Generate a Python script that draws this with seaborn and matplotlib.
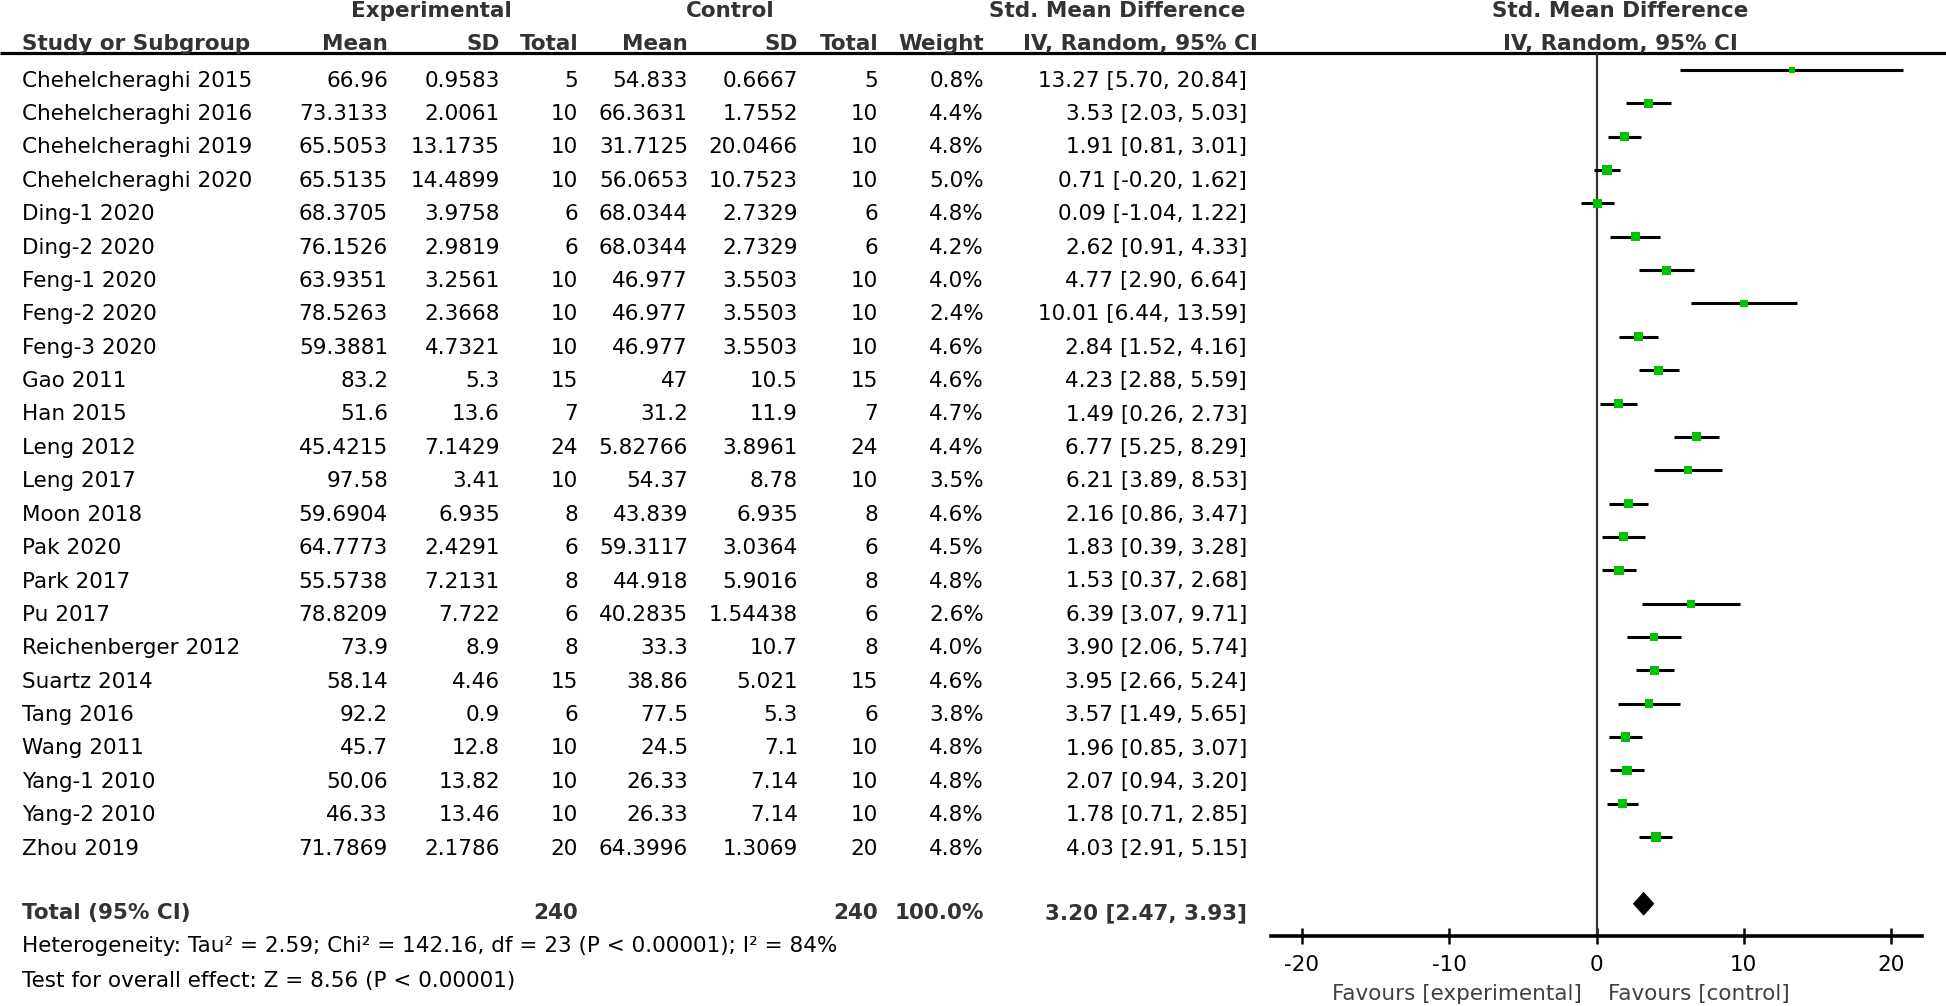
import matplotlib
matplotlib.use("Agg")
import matplotlib.pyplot as plt
import seaborn as sns
import pandas as pd

studies = [
    "Chehelcheraghi 2015", "Chehelcheraghi 2016", "Chehelcheraghi 2019", "Chehelcheraghi 2020",
    "Ding-1 2020", "Ding-2 2020", "Feng-1 2020", "Feng-2 2020", "Feng-3 2020", "Gao 2011",
    "Han 2015", "Leng 2012", "Leng 2017", "Moon 2018", "Pak 2020", "Park 2017", "Pu 2017",
    "Reichenberger 2012", "Suartz 2014", "Tang 2016", "Wang 2011", "Yang-1 2010",
    "Yang-2 2010", "Zhou 2019",
]
exp_mean = ["66.96", "73.3133", "65.5053", "65.5135", "68.3705", "76.1526", "63.9351", "78.5263",
            "59.3881", "83.2", "51.6", "45.4215", "97.58", "59.6904", "64.7773", "55.5738",
            "78.8209", "73.9", "58.14", "92.2", "45.7", "50.06", "46.33", "71.7869"]
exp_sd = ["0.9583", "2.0061", "13.1735", "14.4899", "3.9758", "2.9819", "3.2561", "2.3668",
          "4.7321", "5.3", "13.6", "7.1429", "3.41", "6.935", "2.4291", "7.2131", "7.722",
          "8.9", "4.46", "0.9", "12.8", "13.82", "13.46", "2.1786"]
exp_n = [5, 10, 10, 10, 6, 6, 10, 10, 10, 15, 7, 24, 10, 8, 6, 8, 6, 8, 15, 6, 10, 10, 10, 20]
ctl_mean = ["54.833", "66.3631", "31.7125", "56.0653", "68.0344", "68.0344", "46.977", "46.977",
            "46.977", "47", "31.2", "5.82766", "54.37", "43.839", "59.3117", "44.918",
            "40.2835", "33.3", "38.86", "77.5", "24.5", "26.33", "26.33", "64.3996"]
ctl_sd = ["0.6667", "1.7552", "20.0466", "10.7523", "2.7329", "2.7329", "3.5503", "3.5503",
          "3.5503", "10.5", "11.9", "3.8961", "8.78", "6.935", "3.0364", "5.9016", "1.54438",
          "10.7", "5.021", "5.3", "7.1", "7.14", "7.14", "1.3069"]
ctl_n = [5, 10, 10, 10, 6, 6, 10, 10, 10, 15, 7, 24, 10, 8, 6, 8, 6, 8, 15, 6, 10, 10, 10, 20]
weight = [0.8, 4.4, 4.8, 5.0, 4.8, 4.2, 4.0, 2.4, 4.6, 4.6, 4.7, 4.4, 3.5, 4.6, 4.5, 4.8,
          2.6, 4.0, 4.6, 3.8, 4.8, 4.8, 4.8, 4.8]
smd = [13.27, 3.53, 1.91, 0.71, 0.09, 2.62, 4.77, 10.01, 2.84, 4.23, 1.49, 6.77, 6.21, 2.16,
       1.83, 1.53, 6.39, 3.90, 3.95, 3.57, 1.96, 2.07, 1.78, 4.03]
ci_lo = [5.70, 2.03, 0.81, -0.20, -1.04, 0.91, 2.90, 6.44, 1.52, 2.88, 0.26, 5.25, 3.89, 0.86,
         0.39, 0.37, 3.07, 2.06, 2.66, 1.49, 0.85, 0.94, 0.71, 2.91]
ci_hi = [20.84, 5.03, 3.01, 1.62, 1.22, 4.33, 6.64, 13.59, 4.16, 5.59, 2.73, 8.29, 8.53, 3.47,
         3.28, 2.68, 9.71, 5.74, 5.24, 5.65, 3.07, 3.20, 2.85, 5.15]

total_smd, total_lo, total_hi = 3.20, 2.47, 3.93
total_exp, total_ctl, total_weight = 240, 240, 100.0
x_ticks = [-20, -10, 0, 10, 20]
heterogeneity = "Heterogeneity: Tau² = 2.59; Chi² = 142.16, df = 23 (P < 0.00001); I² = 84%"
overall = "Test for overall effect: Z = 8.56 (P < 0.00001)"

df = pd.DataFrame({"study": studies, "smd": smd, "lo": ci_lo, "hi": ci_hi, "weight": weight})
df["row"] = range(len(df))

sns.set_theme(style="white")
plt.rcParams["font.family"] = ["DejaVu Sans"]
FS = 15.5
HEAD = "#333333"
W, H = 1946, 1006

fig = plt.figure(figsize=(W / 100, H / 100), dpi=100)

# table part, laid out in pixel units
tab = fig.add_axes([0, 0, 1, 1])
tab.set_xlim(0, W)
tab.set_ylim(H, 0)
tab.axis("off")

tab.plot([0, W], [53, 53], color="black", lw=2.3, solid_capstyle="butt")

hb = dict(fontsize=FS, fontweight="bold", color=HEAD, va="baseline")
tab.text(431, 17, "Experimental", ha="center", **hb)
tab.text(730, 17, "Control", ha="center", **hb)
tab.text(1117, 17, "Std. Mean Difference", ha="center", **hb)
tab.text(1620, 17, "Std. Mean Difference", ha="center", **hb)

cols = [388, 500, 578, 688, 798, 878, 984]
tab.text(22, 50, "Study or Subgroup", ha="left", **hb)
for x, lab in zip(cols, ["Mean", "SD", "Total", "Mean", "SD", "Total", "Weight"]):
    tab.text(x, 50, lab, ha="right", **hb)
tab.text(1258, 50, "IV, Random, 95% CI", ha="right", **hb)
tab.text(1620, 50, "IV, Random, 95% CI", ha="center", **hb)

rb = dict(fontsize=FS, color="black", va="baseline")
for i in range(len(studies)):
    y = 86.5 + 33.4 * i
    tab.text(22, y, studies[i], ha="left", **rb)
    vals = [exp_mean[i], exp_sd[i], str(exp_n[i]), ctl_mean[i], ctl_sd[i], str(ctl_n[i]),
            f"{weight[i]:.1f}%"]
    for x, v in zip(cols, vals):
        tab.text(x, y, v, ha="right", **rb)
    tab.text(1247, y, f"{smd[i]:.2f} [{ci_lo[i]:.2f}, {ci_hi[i]:.2f}]", ha="right", **rb)

ty = 919
tab.text(22, ty, "Total (95% CI)", ha="left", **hb)
tab.text(cols[2], ty, str(total_exp), ha="right", **hb)
tab.text(cols[5], ty, str(total_ctl), ha="right", **hb)
tab.text(cols[6], ty, f"{total_weight:.1f}%", ha="right", **hb)
tab.text(1247, ty, f"{total_smd:.2f} [{total_lo:.2f}, {total_hi:.2f}]", ha="right", **hb)
tab.text(22, 952, heterogeneity, ha="left", **rb)
tab.text(22, 987, overall, ha="left", **rb)
tab.text(1582, 1000, "Favours [experimental]", ha="right", fontsize=FS, color="#404040", va="baseline")
tab.text(1608, 1000, "Favours [control]", ha="left", fontsize=FS, color="#404040", va="baseline")

# forest part
x0, x1, ytop, ybot = 1271, 1922, 53, 936
ax = fig.add_axes([x0 / W, (H - ybot) / H, (x1 - x0) / W, (ybot - ytop) / H])
ax.patch.set_alpha(0)
ax.set_xlim(-22.1, 22.1)
ax.set_ylim((ybot - 70) / 33.35, (ytop - 70) / 33.35)

ax.axvline(0, color="#333333", lw=1.6, zorder=1)
ax.hlines(df["row"], df["lo"], df["hi"], color="black", lw=2.2, zorder=2)
sns.scatterplot(data=df, x="smd", y="row", marker="s", color="#00c400", edgecolor="none",
                size="weight", sizes=(22, 46), legend=False, ax=ax, zorder=3)

ty_row = len(studies) + 1
half_h = 0.36
ax.fill([total_lo, total_smd, total_hi, total_smd],
        [ty_row, ty_row - half_h, ty_row, ty_row + half_h], color="black", lw=0, zorder=3)

for s in ["left", "right", "top"]:
    ax.spines[s].set_visible(False)
ax.spines["bottom"].set_linewidth(2.6)
ax.spines["bottom"].set_color("black")
ax.set_xticks(x_ticks)
ax.set_xticklabels([str(t) for t in x_ticks])
ax.tick_params(axis="x", direction="inout", length=11, width=1.8, color="black",
               labelsize=FS, labelcolor="black", pad=8, bottom=True)
ax.set_yticks([])
ax.set_xlabel("")
ax.set_ylabel("")

fig.savefig("out.png", dpi=100)
